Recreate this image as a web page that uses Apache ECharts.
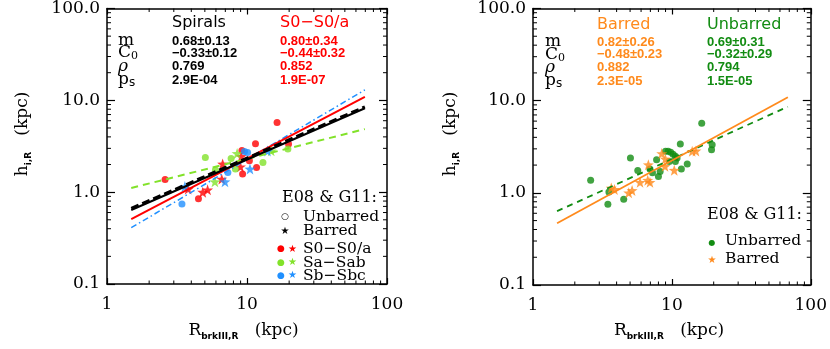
<!DOCTYPE html>
<html><head><meta charset="utf-8">
<script src="https://cdn.jsdelivr.net/npm/echarts/dist/echarts.min.js"></script>
<style>html,body{margin:0;padding:0;background:#fff}#c{width:830px;height:349px}</style>
</head><body><div id="c"></div><script>
// ---------- data ----------
const xTickLabels = ['1', '10', '100'];
const yTickLabels = ['0.1', '1.0', '10.0', '100.0'];
const xMinor = [2,3,4,5,6,7,8,9,20,30,40,50,60,70,80,90];
const yMinor = [0.2,0.3,0.4,0.5,0.6,0.7,0.8,0.9,2,3,4,5,6,7,8,9,20,30,40,50,60,70,80,90];

// left panel points [R_brkIII, h_i]
const s0Circles = [[2.6,1.37],[16.4,5.74],[11.5,3.37],[19.8,3.34],[9.2,2.85],[10.4,2.2],[11.7,1.86],[9.3,1.58],[4.5,0.85]];
const s0Stars = [[6.7,2.03],[6.6,1.39],[4.83,1.0],[5.23,1.06],[9.1,2.45],[8.98,1.89],[3.8,1.08]];
const saCircles = [[5.04,2.39],[5.95,1.74],[7.7,2.33],[8.26,1.79],[13.0,2.1],[19.6,2.95]];
const saStars = [[5.9,1.30],[8.5,2.64],[14.9,2.82]];
const sbCircles = [[3.43,0.744],[7.3,1.64],[9.6,2.77],[10.1,2.7]];
const sbStars = [[6.96,1.30],[10.5,1.79],[3.6,1.15],[14.0,2.8]];

// right panel points
const unbarredPts = [[2.6,1.37],[3.46,0.75],[3.52,1.02],[4.5,0.85],[5.03,2.39],[5.68,1.75],[6.95,1.81],[7.25,1.65],[7.76,2.29],[8.0,1.5],[8.23,1.70],[9.0,2.82],[9.4,2.82],[9.8,2.75],[10.2,2.62],[10.6,2.5],[10.9,2.39],[9.58,2.19],[10.6,2.19],[11.5,3.38],[11.7,1.81],[12.9,2.05],[16.4,5.69],[19.5,3.32],[19.3,2.93]];
const barredPts = [[3.66,1.13],[3.86,1.09],[4.89,1.0],[5.17,1.06],[5.9,1.30],[6.7,1.37],[6.95,1.30],[6.77,2.02],[8.45,2.67],[8.97,2.33],[8.92,1.94],[10.4,1.76],[14.0,2.82],[14.9,2.85]];

// fit lines (end points)
const leftLineX = [1.49, 69.5];
const leftBlackSolid = [0.64, 8.2];
const leftBlackDash = [0.665, 8.5];
const leftRed = [0.51, 10.9];
const leftBlue = [0.41, 13.0];
const leftGreen = [1.11, 4.86];
const rightLineX = [1.49, 68.4];
const rightOrange = [0.467, 10.9];
const rightGreen = [0.633, 8.6];

// stats tables
const statRowLabels = ['m', 'C0', 'rho', 'ps'];
const leftHeaders = ['Spirals', 'S0\u2212S0/a'];
const leftCol1 = ['0.68\u00b10.13', '\u22120.33\u00b10.12', '0.769', '2.9E-04'];
const leftCol2 = ['0.80\u00b10.34', '\u22120.44\u00b10.32', '0.852', '1.9E-07'];
const rightHeaders = ['Barred', 'Unbarred'];
const rightCol1 = ['0.82\u00b10.26', '\u22120.48\u00b10.23', '0.882', '2.3E-05'];
const rightCol2 = ['0.69\u00b10.31', '\u22120.32\u00b10.29', '0.794', '1.5E-05'];
const leftLegend = ['Unbarred', 'Barred', 'S0\u2212S0/a', 'Sa\u2212Sab', 'Sb\u2212Sbc'];
const rightLegend = ['Unbarred', 'Barred'];
const legendTitle = 'E08 & G11:';

// ---------- styling ----------
const RED = '#ff0000', LIME = '#82e22a', BLUE = '#2090ff', ORANGE = '#ff8a1c', DGREEN = '#128c12';
const SERIF = 'DejaVu Serif', SANS = 'DejaVu Sans', LSANS = 'Liberation Sans';
const STAR = 'path://M0,-10 L2.35,-3.24 L9.51,-3.09 L3.8,1.24 L5.88,8.09 L0,4 L-5.88,8.09 L-3.8,1.24 L-9.51,-3.09 L-2.35,-3.24 Z';

const grids = [
  {left: 107, top: 7, width: 280, height: 277},
  {left: 533, top: 8, width: 279, height: 277}
];

function lbl(arr){ return v => { const k = Math.round(Math.log10(v)); return arr[k - Math.round(Math.log10(arr===xTickLabels?1:0.1))] || ''; }; }
const axLine = {show: true, lineStyle: {color: '#000', width: 1.5}};
const xAxes = [], yAxes = [];
[0,1].forEach(g => {
  ['bottom','top'].forEach((pos,i) => xAxes.push({
    type: 'log', logBase: 10, gridIndex: g, min: 1, max: 100, position: pos,
    axisLine: axLine, splitLine: {show: false},
    axisTick: {inside: true, length: 6, lineStyle: {color: '#000', width: 1.2}},
    axisLabel: {show: i === 0, margin: 12, fontFamily: SERIF, fontSize: 17, color: '#000', formatter: lbl(xTickLabels)}
  }));
  ['left','right'].forEach((pos,i) => yAxes.push({
    type: 'log', logBase: 10, gridIndex: g, min: 0.1, max: 100, position: pos,
    axisLine: axLine, splitLine: {show: false},
    axisTick: {inside: true, length: 8, lineStyle: {color: '#000', width: 1.2}},
    axisLabel: {show: i === 0, margin: 7, fontFamily: SERIF, fontSize: 17, color: '#000', formatter: lbl(yTickLabels)}
  }));
});

function minorSeries(g){
  const xi = g*2, yi = g*2;
  return [
    {type: 'custom', xAxisIndex: xi, yAxisIndex: yi, silent: true, clip: false, z: 5,
     data: xMinor.map(v => [v, 1]),
     renderItem: (p, api) => {
       const v = api.value(0), b = api.coord([v, 0.1]), t = api.coord([v, 100]);
       const st = {stroke: '#000', lineWidth: 1};
       return {type: 'group', children: [
         {type: 'line', shape: {x1: b[0], y1: b[1], x2: b[0], y2: b[1]-3.5}, style: st},
         {type: 'line', shape: {x1: t[0], y1: t[1], x2: t[0], y2: t[1]+3.5}, style: st}]};
     }},
    {type: 'custom', xAxisIndex: xi, yAxisIndex: yi, silent: true, clip: false, z: 5,
     data: yMinor.map(v => [1, v]),
     renderItem: (p, api) => {
       const v = api.value(1), l = api.coord([1, v]), r = api.coord([100, v]);
       const st = {stroke: '#000', lineWidth: 1};
       return {type: 'group', children: [
         {type: 'line', shape: {x1: l[0], y1: l[1], x2: l[0]+4, y2: l[1]}, style: st},
         {type: 'line', shape: {x1: r[0], y1: r[1], x2: r[0]-4, y2: r[1]}, style: st}]};
     }}
  ];
}
function lineS(g, xs, ys, color, width, type, z){
  return {type: 'line', xAxisIndex: g*2, yAxisIndex: g*2, data: xs.map((x,i)=>[x, ys[i]]),
    symbol: 'none', silent: true, z: z||3, lineStyle: {color, width, type: type||'solid'}};
}
function scat(g, data, color, star){
  return {type: 'scatter', xAxisIndex: g*2, yAxisIndex: g*2, data,
    symbol: star ? STAR : 'circle', symbolSize: star ? 11 : 7, z: 2,
    itemStyle: {color}};
}

const series = [
  ...minorSeries(0), ...minorSeries(1),
  scat(0, s0Circles, RED), scat(0, s0Stars, RED, true),
  scat(0, saCircles, LIME), scat(0, saStars, LIME, true),
  scat(0, sbCircles, BLUE), scat(0, sbStars, BLUE, true),
  lineS(0, leftLineX, leftGreen, LIME, 2, [7,5]),
  lineS(0, leftLineX, leftBlue, BLUE, 1.5, [6,3,1.5,3]),
  lineS(0, leftLineX, leftRed, RED, 2),
  lineS(0, leftLineX, leftBlackDash, '#000', 3, [8,4]),
  lineS(0, leftLineX, leftBlackSolid, '#000', 2),
  scat(1, unbarredPts, DGREEN), scat(1, barredPts, ORANGE, true),
  lineS(1, rightLineX, rightGreen, DGREEN, 1.8, [6,5]),
  lineS(1, rightLineX, rightOrange, ORANGE, 1.8)
];

// ---------- text ----------
const G = [];
function txt(x, y, text, o){
  o = o || {};
  G.push({type: 'text', x, y, rotation: o.rot || 0, z: 20, silent: true, style: Object.assign({
    text, fill: o.color || '#000', fontFamily: o.family || SERIF, fontSize: o.size || 16,
    fontWeight: o.weight || 'normal',
    align: o.align || 'left', verticalAlign: 'middle'}, o.rich ? {rich: o.rich} : {})});
}
const rowRich = {
  m: {fontFamily: SERIF, fontSize: 17, lineHeight: 18},
  s: {fontFamily: SERIF, fontSize: 11, lineHeight: 10, verticalAlign: 'bottom'},
  r: {fontFamily: SERIF, fontSize: 17, fontStyle: 'italic', lineHeight: 18},
  ss: {fontFamily: SANS, fontSize: 12, lineHeight: 14, verticalAlign: 'bottom'}
};
const rowText = {m: '{m|m}', C0: '{m|C}{s|0}', rho: '{r|\u03c1}', ps: '{m|p}{ss|s}'};
function statsBlock(lx, c1x, c2x, hy, rowYs, headers, col1, col2, c1color, c2color){
  txt(c1x, hy, headers[0], {family: SANS, size: 16, color: c1color, weight: 500});
  txt(c2x, hy, headers[1], {family: SANS, size: 16, color: c2color, weight: 500});
  statRowLabels.forEach((k, i) => {
    txt(lx, rowYs[i], rowText[k], {rich: rowRich});
    txt(c1x, rowYs[i], col1[i], {family: LSANS, size: 13, color: c1color, weight: 'bold'});
    txt(c2x, rowYs[i], col2[i], {family: LSANS, size: 13, color: c2color, weight: 'bold'});
  });
}
statsBlock(118, 172, 280, 23, [41, 53, 66.5, 80], leftHeaders, leftCol1, leftCol2, '#000', RED);
statsBlock(545, 597, 707, 25, [42, 54.5, 67.5, 81], rightHeaders, rightCol1, rightCol2, ORANGE, DGREEN);

// legends
txt(282, 197.5, legendTitle, {size: 16});
txt(285, 217, '\u25cb', {family: SANS, size: 9, align: 'center'});
txt(303, 217, leftLegend[0], {size: 15.5});
txt(285, 231, '\u2605', {family: SANS, size: 10, align: 'center'});
txt(303, 231, leftLegend[1], {size: 15.5});
const legCols = [RED, LIME, BLUE];
[249, 262.5, 275.5].forEach((y, i) => {
  txt(281, y, '\u25cf', {family: SANS, size: 9, align: 'center', color: legCols[i]});
  txt(292.5, y, '\u2605', {family: SANS, size: 10, align: 'center', color: legCols[i]});
  txt(303, y, leftLegend[2+i], {size: 15.5});
});
txt(707, 215, legendTitle, {size: 16});
txt(712, 243, '\u25cf', {family: SANS, size: 8, align: 'center', color: DGREEN});
txt(725, 241, rightLegend[0], {size: 15.5});
txt(712, 260, '\u2605', {family: SANS, size: 10, align: 'center', color: ORANGE});
txt(725, 258.5, rightLegend[1], {size: 15.5});

// axis titles
const nameRich = {
  m: {fontFamily: SERIF, fontSize: 17, lineHeight: 20},
  s: {fontFamily: SANS, fontSize: 9, fontWeight: 'bold', lineHeight: 10, verticalAlign: 'bottom'}
};
txt(23, 134, '{m|h}{s|i,R}{m|   (kpc)}', {rich: nameRich, align: 'center', rot: Math.PI/2});
txt(451, 134, '{m|h}{s|i,R}{m|   (kpc)}', {rich: nameRich, align: 'center', rot: Math.PI/2});
txt(243.5, 331, '{m|R}{s|brkIII,R}{m|   (kpc)}', {rich: nameRich, align: 'center'});
txt(669, 331, '{m|R}{s|brkIII,R}{m|   (kpc)}', {rich: nameRich, align: 'center'});

const chart = echarts.init(document.getElementById('c'), null, {renderer: 'canvas'});
chart.setOption({
  animation: false, backgroundColor: '#fff',
  grid: grids, xAxis: xAxes, yAxis: yAxes, series, graphic: G
});
</script></body></html>
